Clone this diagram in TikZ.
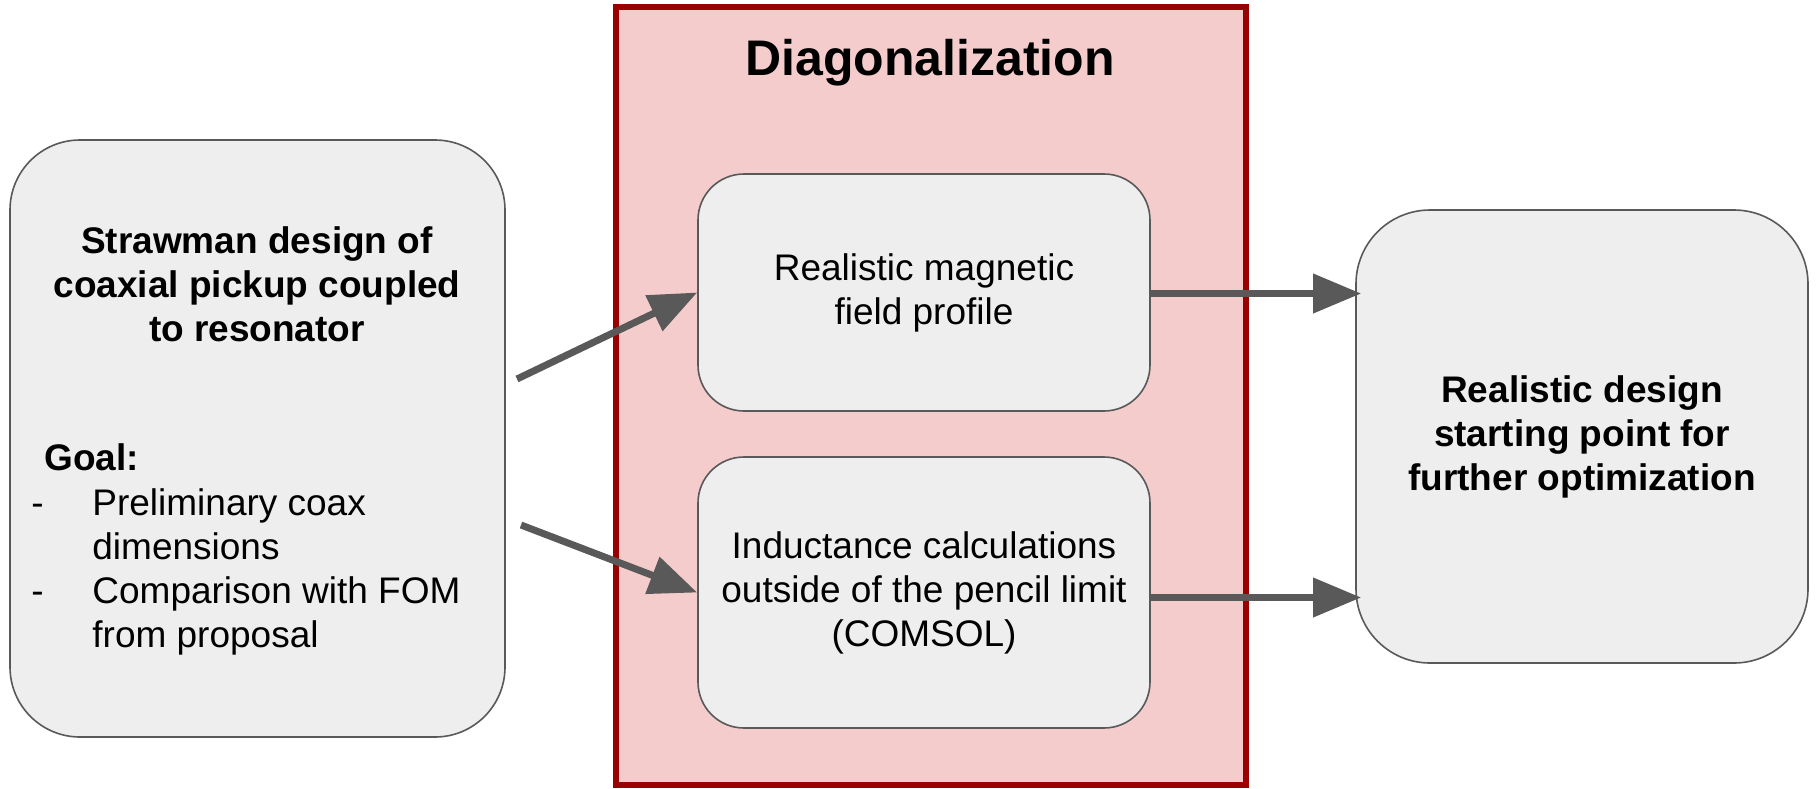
\documentclass[tikz,border=0pt]{standalone}
\usepackage{fontspec}
\setmainfont{Liberation Sans}
\usetikzlibrary{arrows.meta}

\definecolor{boxgray}{HTML}{EEEEEE}
\definecolor{linegray}{HTML}{595959}
\definecolor{diagred}{HTML}{990000}
\definecolor{diagpink}{HTML}{F4CCCC}

\tikzset{
  block/.style={draw=linegray, line width=0.8pt, fill=boxgray, rectangle,
    align=center, inner sep=0pt, font=\fontsize{18.5}{22}\selectfont},
  txt/.style={inner sep=0pt, font=\fontsize{18.5}{22}\selectfont},
  flow/.style={draw=linegray, line width=3.5pt,
    -{Triangle[length=24pt,width=19pt]}},
}

\begin{document}
\begin{tikzpicture}[x=0.5pt, y=-0.5pt]
  \useasboundingbox (0,0) rectangle (1817,788);

  \node[draw=diagred, line width=3pt, fill=diagpink, rectangle, inner sep=0pt,
    minimum width=315pt, minimum height=389pt] (diag) at (930.5,396) {};
  \node[txt, font=\fontsize{25}{30}\selectfont\bfseries, anchor=base] (title) at (930,75) {Diagonalization};

  \node[block, rounded corners=35pt, minimum width=247.5pt, minimum height=298.5pt] (straw) at (257.5,438.5) {};
  \node[txt, align=center, font=\fontsize{18.5}{22}\selectfont\bfseries] (strawtitle) at (257,284)
    {Strawman design of\\coaxial pickup coupled\\to resonator};
  \node[txt, font=\fontsize{18.5}{22}\selectfont\bfseries, anchor=base west] (goal) at (44,470) {Goal:};
  \node[txt, anchor=base west] (dash1) at (31,515) {-};
  \node[txt, anchor=base west] (dash2) at (31,603) {-};
  \node[txt, align=left, anchor=base west] (items) at (92,647)
    {Preliminary coax\\dimensions\\Comparison with FOM\\from proposal};

  \node[block, rounded corners=23pt, minimum width=226pt, minimum height=118.5pt] (field) at (924,292.5)
    {Realistic magnetic\\field profile};
  \node[block, rounded corners=23pt, minimum width=226pt, minimum height=135.5pt] (induct) at (924,592.5)
    {Inductance calculations\\outside of the pencil limit\\(COMSOL)};

  \node[block, rounded corners=37pt, minimum width=226pt, minimum height=226.5pt,
    font=\fontsize{18.5}{22}\selectfont\bfseries] (result) at (1582,436.5)
    {Realistic design\\starting point for\\further optimization};

  \coordinate (s1) at (517,379);
  \coordinate (s2) at (521,525);

  \draw[flow] (s1) -- (field.west);
  \draw[flow] (s2) -- (induct.west);
  \draw[flow] ([yshift=-0.5pt]field.east) -- ([xshift=3pt,yshift=-0.5pt]field.east -| result.west);
  \draw[flow] ([yshift=-2.5pt]induct.east) -- ([xshift=3pt,yshift=-2.5pt]induct.east -| result.west);
\end{tikzpicture}
\end{document}
